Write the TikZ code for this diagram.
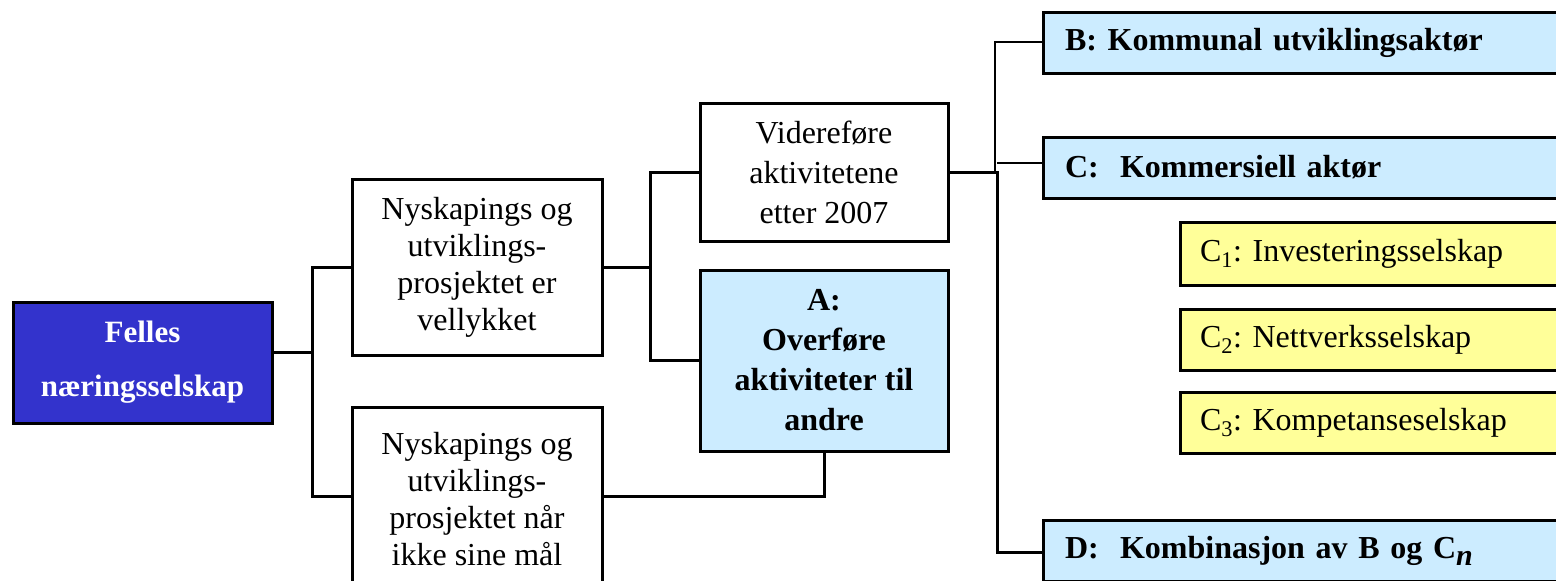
\documentclass[tikz,border=0pt]{standalone}
\usepackage{fontspec}
\setmainfont{Liberation Serif}
\frenchspacing
\definecolor{fblue}{HTML}{3333CC}
\definecolor{lblue}{HTML}{CCECFF}
\definecolor{lyellow}{HTML}{FFFF99}
\begin{document}
\begin{tikzpicture}[x=1pt,y=-1pt,
  box/.style={draw=black,line width=3pt,rectangle,inner sep=0pt,align=center},
  plain/.style={box,fill=white,font=\fontsize{32}{37}\selectfont},
  sidebox/.style={draw=black,line width=3pt,rectangle,inner sep=0pt,fill=lblue,font=\fontsize{32}{37}\selectfont\bfseries,text width=#1,align=left},
  ybox/.style={draw=black,line width=3pt,rectangle,inner sep=0pt,fill=lyellow,font=\fontsize{32}{37}\selectfont,text width=#1,align=left},
  conn/.style={line width=3pt,line cap=rect},
  thin/.style={line width=1.5pt}]
\useasboundingbox (0,0) rectangle (1556,581);
\fill[white] (0,0) rectangle (1556,581);

\node[box,fill=fblue,text=white,font=\fontsize{31}{54}\selectfont\bfseries,minimum width=259,minimum height=121] (felles) at (142.5,362.5) {Felles\\næringsselskap};

\node[plain,minimum width=250,minimum height=176] (ny1) at (477,267) {Nyskapings og\\utviklings-\\prosjektet er\\vellykket};
\node[plain,minimum width=250,minimum height=184] (ny2) at (477,499) {Nyskapings og\\utviklings-\\prosjektet når\\ikke sine mål};

\node[box,fill=white,font=\fontsize{32}{40}\selectfont,minimum width=248,minimum height=138] (vid) at (824,172) {Videreføre\\aktivitetene\\etter 2007};
\node[box,fill=lblue,font=\fontsize{32}{40}\selectfont\bfseries,minimum width=248,minimum height=181] (A) at (824,360.5) {A:\\Overføre\\aktiviteter til\\andre};

\node[sidebox=483pt,minimum height=61,inner xsep=22pt] (B) at (1306.5,42.5) {B: Kommunal utviklingsaktør};
\node[sidebox=483pt,minimum height=61,inner xsep=22pt] (C) at (1306.5,167.5) {C:\ \ Kommersiell aktør};
\node[ybox=350pt,minimum height=63,inner xsep=20pt] (C1) at (1375,253.5) {C\textsubscript{1}: Investeringsselskap};
\node[ybox=350pt,minimum height=61,inner xsep=20pt] (C2) at (1375,340) {C\textsubscript{2}: Nettverksselskap};
\node[ybox=350pt,minimum height=61,inner xsep=20pt] (C3) at (1375,422.5) {C\textsubscript{3}: Kompetanseselskap};
\node[sidebox=483pt,minimum height=61,inner xsep=22pt] (D) at (1306.5,551) {D:\ \ Kombinasjon av B og C\raisebox{-7pt}{\fontsize{30}{30}\selectfont\textit{n}}};

\coordinate (j1) at (312,352);
\coordinate (t1) at (312,267);
\coordinate (t2) at (312,496);
\draw[conn] (felles.east |- j1) -- (j1);
\draw[conn] (ny1.west) -- (t1) -- (t2) -- (ny2.west |- t2);

\coordinate (v1) at (650,172);
\coordinate (v2) at (650,360);
\draw[conn] (ny1.east) -- (650,267);
\draw[conn] (vid.west) -- (v1) -- (v2) -- (A.west |- v2);

\draw[conn] (ny2.east |- t2) -| (A.south);

\coordinate (r0) at (997,172);
\coordinate (rb) at (995,42);
\coordinate (rd) at (997,552);
\draw[conn] (vid.east) -- (r0);
\draw[line width=2.5pt] (995,172) -- (rb) -- (B.west |- rb);
\draw[conn] (r0) -- (rd) -- (D.west |- rd);
\draw[thin] (997,163) -- (C.west |- 0,163);
\end{tikzpicture}
\end{document}
